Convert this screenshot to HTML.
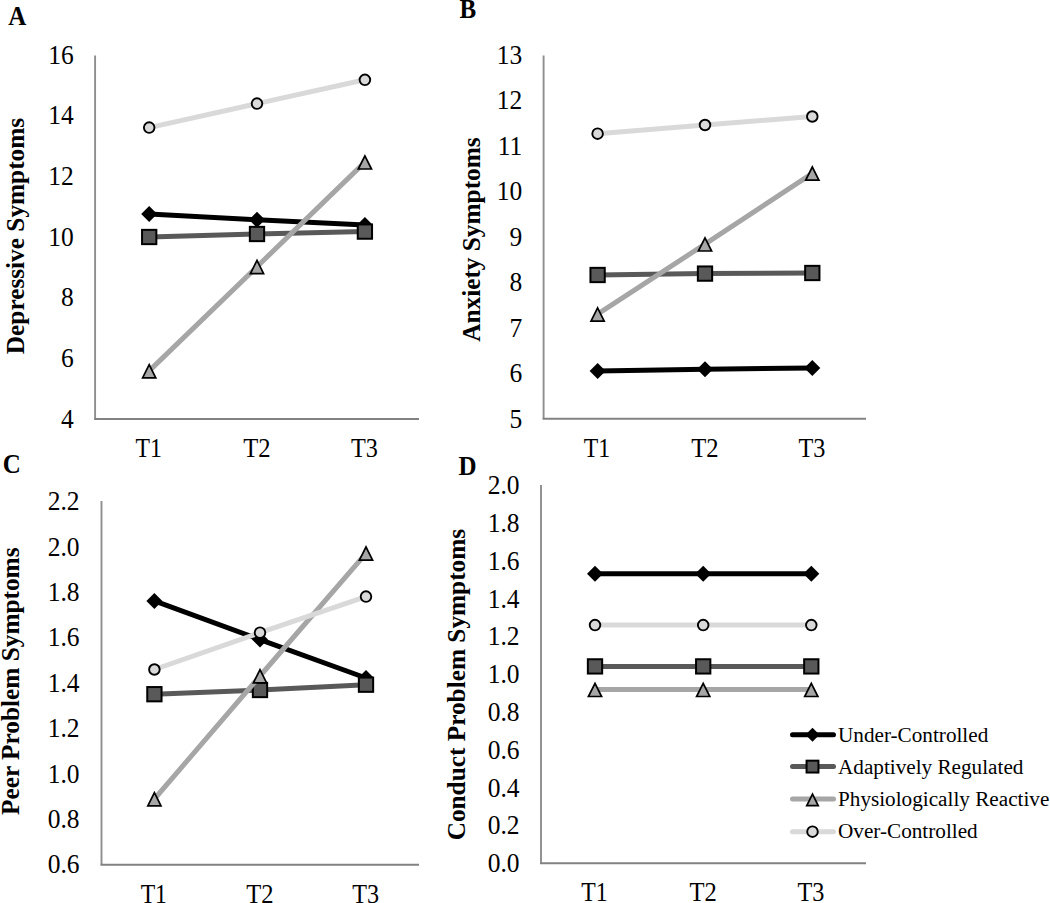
<!DOCTYPE html><html><head><meta charset="utf-8"><title>Figure</title><style>html,body{margin:0;padding:0;background:#fff;width:1050px;height:903px;overflow:hidden}svg{display:block}text{font-family:"Liberation Serif",serif;fill:#000}</style></head><body>
<svg width="1050" height="903" viewBox="0 0 1050 903">
<rect width="1050" height="903" fill="#fff"/>
<text transform="translate(8.3,25.0) scale(1,1.08)" font-weight="bold" font-size="25">A</text>
<text transform="translate(73.8,427.80) scale(1,1.09)" text-anchor="end" font-size="25.5">4</text>
<text transform="translate(73.8,367.13) scale(1,1.09)" text-anchor="end" font-size="25.5">6</text>
<text transform="translate(73.8,306.47) scale(1,1.09)" text-anchor="end" font-size="25.5">8</text>
<text transform="translate(73.8,245.80) scale(1,1.09)" text-anchor="end" font-size="25.5">10</text>
<text transform="translate(73.8,185.13) scale(1,1.09)" text-anchor="end" font-size="25.5">12</text>
<text transform="translate(73.8,124.47) scale(1,1.09)" text-anchor="end" font-size="25.5">14</text>
<text transform="translate(73.8,63.80) scale(1,1.09)" text-anchor="end" font-size="25.5">16</text>
<text transform="translate(148.60,456.8) scale(0.93,1.05)" text-anchor="middle" font-size="25.5">T1</text>
<text transform="translate(257.00,456.8) scale(0.965,1.05)" text-anchor="middle" font-size="25.5">T2</text>
<text transform="translate(364.50,456.8) scale(0.95,1.05)" text-anchor="middle" font-size="25.5">T3</text>
<text transform="translate(24.2,236.0) rotate(-90)" text-anchor="middle" font-weight="bold" font-size="25.3">Depressive Symptoms</text>
<path d="M95.1,55.5 V418.9" fill="none" stroke="#8e8e8e" stroke-width="1.9"/>
<path d="M94.1,418.9 H419" fill="none" stroke="#828282" stroke-width="2"/>
<polyline points="149.20,214.00 257.00,219.80 364.90,224.90" fill="none" stroke="#000000" stroke-width="5.0" stroke-linejoin="round"/>
<polygon points="149.20,206.00 157.20,214.00 149.20,222.00 141.20,214.00" fill="#000"/>
<polygon points="257.00,211.80 265.00,219.80 257.00,227.80 249.00,219.80" fill="#000"/>
<polygon points="364.90,216.90 372.90,224.90 364.90,232.90 356.90,224.90" fill="#000"/>
<polyline points="149.20,237.00 257.00,234.00 364.90,231.60" fill="none" stroke="#595959" stroke-width="5.0" stroke-linejoin="round"/>
<rect x="142.05" y="229.85" width="14.30" height="14.30" fill="#595959" stroke="#000" stroke-width="2"/>
<rect x="249.85" y="226.85" width="14.30" height="14.30" fill="#595959" stroke="#000" stroke-width="2"/>
<rect x="357.75" y="224.45" width="14.30" height="14.30" fill="#595959" stroke="#000" stroke-width="2"/>
<polyline points="149.20,370.90 257.00,266.70 364.90,162.10" fill="none" stroke="#a6a6a6" stroke-width="5.0" stroke-linejoin="round"/>
<polygon points="149.20,364.60 155.80,377.80 142.60,377.80" fill="#a6a6a6" stroke="#000" stroke-width="1.7"/>
<polygon points="257.00,260.40 263.60,273.60 250.40,273.60" fill="#a6a6a6" stroke="#000" stroke-width="1.7"/>
<polygon points="364.90,155.80 371.50,169.00 358.30,169.00" fill="#a6a6a6" stroke="#000" stroke-width="1.7"/>
<polyline points="149.20,127.60 257.00,103.60 364.90,79.80" fill="none" stroke="#d9d9d9" stroke-width="5.0" stroke-linejoin="round"/>
<circle cx="149.20" cy="127.60" r="5.30" fill="#d9d9d9" stroke="#000" stroke-width="1.9"/>
<circle cx="257.00" cy="103.60" r="5.30" fill="#d9d9d9" stroke="#000" stroke-width="1.9"/>
<circle cx="364.90" cy="79.80" r="5.30" fill="#d9d9d9" stroke="#000" stroke-width="1.9"/>
<text transform="translate(459.5,18.1) scale(1,1.08)" font-weight="bold" font-size="25">B</text>
<text transform="translate(522.2,427.70) scale(1,1.09)" text-anchor="end" font-size="25.5">5</text>
<text transform="translate(522.2,382.20) scale(1,1.09)" text-anchor="end" font-size="25.5">6</text>
<text transform="translate(522.2,336.70) scale(1,1.09)" text-anchor="end" font-size="25.5">7</text>
<text transform="translate(522.2,291.20) scale(1,1.09)" text-anchor="end" font-size="25.5">8</text>
<text transform="translate(522.2,245.70) scale(1,1.09)" text-anchor="end" font-size="25.5">9</text>
<text transform="translate(522.2,200.20) scale(1,1.09)" text-anchor="end" font-size="25.5">10</text>
<text transform="translate(522.2,154.70) scale(1,1.09)" text-anchor="end" font-size="25.5">11</text>
<text transform="translate(522.2,109.20) scale(1,1.09)" text-anchor="end" font-size="25.5">12</text>
<text transform="translate(522.2,63.70) scale(1,1.09)" text-anchor="end" font-size="25.5">13</text>
<text transform="translate(597.00,456.6) scale(0.93,1.05)" text-anchor="middle" font-size="25.5">T1</text>
<text transform="translate(705.00,456.6) scale(0.965,1.05)" text-anchor="middle" font-size="25.5">T2</text>
<text transform="translate(811.90,456.6) scale(0.95,1.05)" text-anchor="middle" font-size="25.5">T3</text>
<text transform="translate(479.9,239.6) rotate(-90)" text-anchor="middle" font-weight="bold" font-size="25.3">Anxiety Symptoms</text>
<path d="M543.6,55.5 V418.8" fill="none" stroke="#8e8e8e" stroke-width="1.9"/>
<path d="M542.6,418.8 H866" fill="none" stroke="#828282" stroke-width="2"/>
<polyline points="597.60,371.00 705.00,369.20 812.30,367.90" fill="none" stroke="#000000" stroke-width="5.0" stroke-linejoin="round"/>
<polygon points="597.60,363.00 605.60,371.00 597.60,379.00 589.60,371.00" fill="#000"/>
<polygon points="705.00,361.20 713.00,369.20 705.00,377.20 697.00,369.20" fill="#000"/>
<polygon points="812.30,359.90 820.30,367.90 812.30,375.90 804.30,367.90" fill="#000"/>
<polyline points="597.60,275.00 705.00,273.60 812.30,273.00" fill="none" stroke="#595959" stroke-width="5.0" stroke-linejoin="round"/>
<rect x="590.45" y="267.85" width="14.30" height="14.30" fill="#595959" stroke="#000" stroke-width="2"/>
<rect x="697.85" y="266.45" width="14.30" height="14.30" fill="#595959" stroke="#000" stroke-width="2"/>
<rect x="805.15" y="265.85" width="14.30" height="14.30" fill="#595959" stroke="#000" stroke-width="2"/>
<polyline points="597.60,314.20 705.00,244.10 812.30,173.30" fill="none" stroke="#a6a6a6" stroke-width="5.0" stroke-linejoin="round"/>
<polygon points="597.60,307.90 604.20,321.10 591.00,321.10" fill="#a6a6a6" stroke="#000" stroke-width="1.7"/>
<polygon points="705.00,237.80 711.60,251.00 698.40,251.00" fill="#a6a6a6" stroke="#000" stroke-width="1.7"/>
<polygon points="812.30,167.00 818.90,180.20 805.70,180.20" fill="#a6a6a6" stroke="#000" stroke-width="1.7"/>
<polyline points="597.60,133.70 705.00,125.00 812.30,116.50" fill="none" stroke="#d9d9d9" stroke-width="5.0" stroke-linejoin="round"/>
<circle cx="597.60" cy="133.70" r="5.30" fill="#d9d9d9" stroke="#000" stroke-width="1.9"/>
<circle cx="705.00" cy="125.00" r="5.30" fill="#d9d9d9" stroke="#000" stroke-width="1.9"/>
<circle cx="812.30" cy="116.50" r="5.30" fill="#d9d9d9" stroke="#000" stroke-width="1.9"/>
<text transform="translate(2.8,472.5) scale(1,1.08)" font-weight="bold" font-size="25">C</text>
<text transform="translate(79.5,873.30) scale(1,1.09)" text-anchor="end" font-size="25.5">0.6</text>
<text transform="translate(79.5,827.90) scale(1,1.09)" text-anchor="end" font-size="25.5">0.8</text>
<text transform="translate(79.5,782.50) scale(1,1.09)" text-anchor="end" font-size="25.5">1.0</text>
<text transform="translate(79.5,737.10) scale(1,1.09)" text-anchor="end" font-size="25.5">1.2</text>
<text transform="translate(79.5,691.70) scale(1,1.09)" text-anchor="end" font-size="25.5">1.4</text>
<text transform="translate(79.5,646.30) scale(1,1.09)" text-anchor="end" font-size="25.5">1.6</text>
<text transform="translate(79.5,600.90) scale(1,1.09)" text-anchor="end" font-size="25.5">1.8</text>
<text transform="translate(79.5,555.50) scale(1,1.09)" text-anchor="end" font-size="25.5">2.0</text>
<text transform="translate(79.5,510.10) scale(1,1.09)" text-anchor="end" font-size="25.5">2.2</text>
<text transform="translate(153.80,902.6) scale(0.93,1.05)" text-anchor="middle" font-size="25.5">T1</text>
<text transform="translate(260.00,902.6) scale(0.965,1.05)" text-anchor="middle" font-size="25.5">T2</text>
<text transform="translate(365.60,902.6) scale(0.95,1.05)" text-anchor="middle" font-size="25.5">T3</text>
<text transform="translate(19.0,681.2) rotate(-90)" text-anchor="middle" font-weight="bold" font-size="25.3">Peer Problem Symptoms</text>
<path d="M101.5,501.0 V864.7" fill="none" stroke="#8e8e8e" stroke-width="1.9"/>
<path d="M100.5,864.7 H419" fill="none" stroke="#828282" stroke-width="2"/>
<polyline points="154.40,600.90 260.00,639.60 366.00,678.00" fill="none" stroke="#000000" stroke-width="5.0" stroke-linejoin="round"/>
<polygon points="154.40,592.90 162.40,600.90 154.40,608.90 146.40,600.90" fill="#000"/>
<polygon points="260.00,631.60 268.00,639.60 260.00,647.60 252.00,639.60" fill="#000"/>
<polygon points="366.00,670.00 374.00,678.00 366.00,686.00 358.00,678.00" fill="#000"/>
<polyline points="154.40,694.20 260.00,690.00 366.00,684.70" fill="none" stroke="#595959" stroke-width="5.0" stroke-linejoin="round"/>
<rect x="147.25" y="687.05" width="14.30" height="14.30" fill="#595959" stroke="#000" stroke-width="2"/>
<rect x="252.85" y="682.85" width="14.30" height="14.30" fill="#595959" stroke="#000" stroke-width="2"/>
<rect x="358.85" y="677.55" width="14.30" height="14.30" fill="#595959" stroke="#000" stroke-width="2"/>
<polyline points="154.40,799.00 260.00,676.00 366.00,553.30" fill="none" stroke="#a6a6a6" stroke-width="5.0" stroke-linejoin="round"/>
<polygon points="154.40,792.70 161.00,805.90 147.80,805.90" fill="#a6a6a6" stroke="#000" stroke-width="1.7"/>
<polygon points="260.00,669.70 266.60,682.90 253.40,682.90" fill="#a6a6a6" stroke="#000" stroke-width="1.7"/>
<polygon points="366.00,547.00 372.60,560.20 359.40,560.20" fill="#a6a6a6" stroke="#000" stroke-width="1.7"/>
<polyline points="154.40,669.50 260.00,632.70 366.00,596.60" fill="none" stroke="#d9d9d9" stroke-width="5.0" stroke-linejoin="round"/>
<circle cx="154.40" cy="669.50" r="5.30" fill="#d9d9d9" stroke="#000" stroke-width="1.9"/>
<circle cx="260.00" cy="632.70" r="5.30" fill="#d9d9d9" stroke="#000" stroke-width="1.9"/>
<circle cx="366.00" cy="596.60" r="5.30" fill="#d9d9d9" stroke="#000" stroke-width="1.9"/>
<text transform="translate(458.6,475.2) scale(1,1.08)" font-weight="bold" font-size="25">D</text>
<text transform="translate(519.5,872.10) scale(1,1.09)" text-anchor="end" font-size="25.5">0.0</text>
<text transform="translate(519.5,834.30) scale(1,1.09)" text-anchor="end" font-size="25.5">0.2</text>
<text transform="translate(519.5,796.50) scale(1,1.09)" text-anchor="end" font-size="25.5">0.4</text>
<text transform="translate(519.5,758.70) scale(1,1.09)" text-anchor="end" font-size="25.5">0.6</text>
<text transform="translate(519.5,720.90) scale(1,1.09)" text-anchor="end" font-size="25.5">0.8</text>
<text transform="translate(519.5,683.10) scale(1,1.09)" text-anchor="end" font-size="25.5">1.0</text>
<text transform="translate(519.5,645.30) scale(1,1.09)" text-anchor="end" font-size="25.5">1.2</text>
<text transform="translate(519.5,607.50) scale(1,1.09)" text-anchor="end" font-size="25.5">1.4</text>
<text transform="translate(519.5,569.70) scale(1,1.09)" text-anchor="end" font-size="25.5">1.6</text>
<text transform="translate(519.5,531.90) scale(1,1.09)" text-anchor="end" font-size="25.5">1.8</text>
<text transform="translate(519.5,494.10) scale(1,1.09)" text-anchor="end" font-size="25.5">2.0</text>
<text transform="translate(594.40,900.8) scale(0.93,1.05)" text-anchor="middle" font-size="25.5">T1</text>
<text transform="translate(703.20,900.8) scale(0.965,1.05)" text-anchor="middle" font-size="25.5">T2</text>
<text transform="translate(810.90,900.8) scale(0.95,1.05)" text-anchor="middle" font-size="25.5">T3</text>
<text transform="translate(464.8,684.6) rotate(-90)" text-anchor="middle" font-weight="bold" font-size="25.3">Conduct Problem Symptoms</text>
<path d="M541.0,485.0 V863.3" fill="none" stroke="#8e8e8e" stroke-width="1.9"/>
<path d="M540.0,863.3 H866" fill="none" stroke="#828282" stroke-width="2"/>
<polyline points="595.00,573.80 703.20,573.80 811.30,573.80" fill="none" stroke="#000000" stroke-width="5.0" stroke-linejoin="round"/>
<polygon points="595.00,565.80 603.00,573.80 595.00,581.80 587.00,573.80" fill="#000"/>
<polygon points="703.20,565.80 711.20,573.80 703.20,581.80 695.20,573.80" fill="#000"/>
<polygon points="811.30,565.80 819.30,573.80 811.30,581.80 803.30,573.80" fill="#000"/>
<polyline points="595.00,666.40 703.20,666.40 811.30,666.40" fill="none" stroke="#595959" stroke-width="5.0" stroke-linejoin="round"/>
<rect x="587.85" y="659.25" width="14.30" height="14.30" fill="#595959" stroke="#000" stroke-width="2"/>
<rect x="696.05" y="659.25" width="14.30" height="14.30" fill="#595959" stroke="#000" stroke-width="2"/>
<rect x="804.15" y="659.25" width="14.30" height="14.30" fill="#595959" stroke="#000" stroke-width="2"/>
<polyline points="595.00,689.60 703.20,689.60 811.30,689.60" fill="none" stroke="#a6a6a6" stroke-width="5.0" stroke-linejoin="round"/>
<polygon points="595.00,683.30 601.60,696.50 588.40,696.50" fill="#a6a6a6" stroke="#000" stroke-width="1.7"/>
<polygon points="703.20,683.30 709.80,696.50 696.60,696.50" fill="#a6a6a6" stroke="#000" stroke-width="1.7"/>
<polygon points="811.30,683.30 817.90,696.50 804.70,696.50" fill="#a6a6a6" stroke="#000" stroke-width="1.7"/>
<polyline points="595.00,625.10 703.20,625.10 811.30,625.10" fill="none" stroke="#d9d9d9" stroke-width="5.0" stroke-linejoin="round"/>
<circle cx="595.00" cy="625.10" r="5.30" fill="#d9d9d9" stroke="#000" stroke-width="1.9"/>
<circle cx="703.20" cy="625.10" r="5.30" fill="#d9d9d9" stroke="#000" stroke-width="1.9"/>
<circle cx="811.30" cy="625.10" r="5.30" fill="#d9d9d9" stroke="#000" stroke-width="1.9"/>
<line x1="792.5" y1="734.8" x2="833.5" y2="734.8" stroke="#000000" stroke-width="5.0" stroke-linecap="round"/>
<polygon points="812.50,727.84 819.46,734.80 812.50,741.76 805.54,734.80" fill="#000"/>
<text transform="translate(838,741.6) scale(1,1.03)" font-size="21.2">Under-Controlled</text>
<line x1="792.5" y1="766.6" x2="833.5" y2="766.6" stroke="#595959" stroke-width="5.0" stroke-linecap="round"/>
<rect x="806.57" y="760.67" width="11.87" height="11.87" fill="#595959" stroke="#000" stroke-width="2"/>
<text transform="translate(838,773.8) scale(1,1.03)" font-size="21.2">Adaptively Regulated</text>
<line x1="792.5" y1="799.0" x2="833.5" y2="799.0" stroke="#a6a6a6" stroke-width="5.0" stroke-linecap="round"/>
<polygon points="812.50,794.12 818.24,805.60 806.76,805.60" fill="#a6a6a6" stroke="#000" stroke-width="1.7"/>
<text transform="translate(838,805.6) scale(1,1.03)" font-size="21.2">Physiologically Reactive</text>
<line x1="792.5" y1="831.7" x2="833.5" y2="831.7" stroke="#d9d9d9" stroke-width="5.0" stroke-linecap="round"/>
<circle cx="812.50" cy="831.70" r="5.30" fill="#d9d9d9" stroke="#000" stroke-width="1.9"/>
<text transform="translate(838,837.6) scale(1,1.03)" font-size="21.2">Over-Controlled</text>
</svg></body></html>
